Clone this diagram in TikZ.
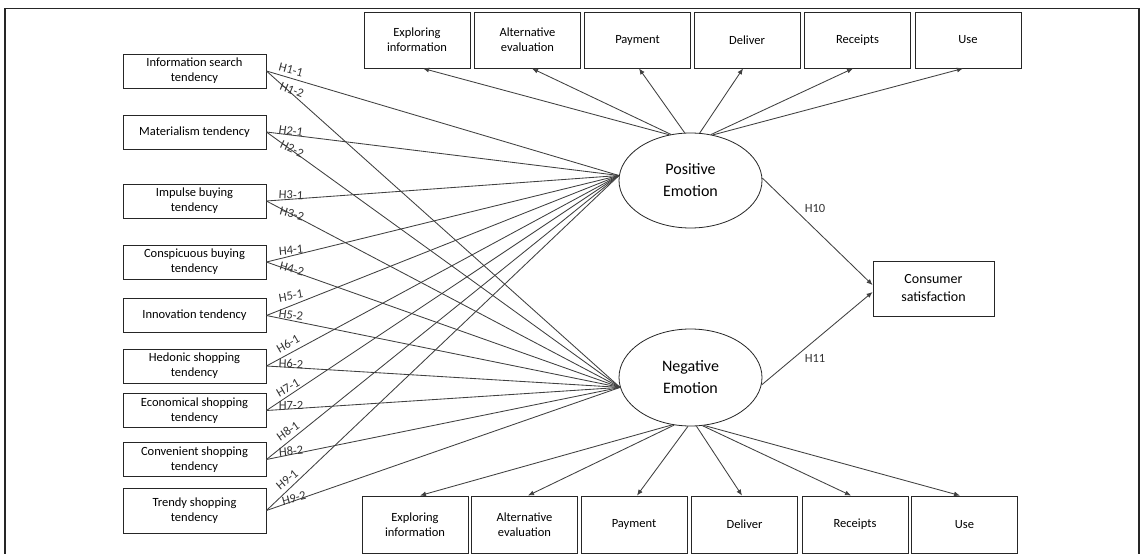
\documentclass[tikz,border=0pt]{standalone}
\usepackage{fontspec}
\setmainfont{Carlito}
\usetikzlibrary{shapes.geometric,arrows.meta,calc}
\begin{document}
\begin{tikzpicture}[x=1pt,y=-1pt,
  box/.style={draw=black!85, line width=0.9pt, rectangle, inner sep=0pt, align=center, font=\fontsize{12.5}{15}\selectfont, text=black},
  lbox/.style={box, minimum width=143pt, minimum height=34pt},
  tbox/.style={box, minimum width=106pt, minimum height=56pt},
  emo/.style={draw=black!85, line width=0.8pt, ellipse, minimum width=143pt, minimum height=95pt, inner sep=0pt, align=center, font=\fontsize{16}{22}\selectfont},
  link/.style={draw=black!75, line width=0.85pt},
  arr/.style={link, -{Latex[length=6pt,width=5pt]}},
  hl/.style={font=\fontsize{12.5}{13}\selectfont, text=black!80, inner sep=0pt},
]
\clip (0,0) rectangle (1141,554);
\fill[white] (0,0) rectangle (1141,554);
% outer frame
\draw[line width=1.4pt, black!85] (5,580) -- (5,8.5) -- (1139,8.5) -- (1139,580);

% left boxes
\node[lbox] (l1) at (194.5,71) {Information search\\tendency};
\node[lbox] (l2) at (194.5,132) {Materialism tendency};
\node[lbox] (l3) at (194.5,201) {Impulse buying\\tendency};
\node[lbox] (l4) at (194.5,262) {Conspicuous buying\\tendency};
\node[lbox] (l5) at (194.5,315.5) {Innovation tendency};
\node[lbox] (l6) at (194.5,366) {Hedonic shopping\\tendency};
\node[lbox] (l7) at (194.5,410.5) {Economical shopping\\tendency};
\node[lbox] (l8) at (194.5,459.5) {Convenient shopping\\tendency};
\node[lbox, minimum height=45pt] (l9) at (194.5,510.5) {Trendy shopping\\tendency};

% top boxes
\node[tbox] (t1) at (417,40) {Exploring\\information};
\node[tbox] (t2) at (527.5,40) {Alternative\\evaluation};
\node[tbox] (t3) at (637.5,40) {Payment};
\node[tbox] (t4) at (747,40) {Deliver};
\node[tbox] (t5) at (857.5,40) {Receipts};
\node[tbox] (t6) at (968,40) {Use};

% bottom boxes
\node[tbox, minimum height=57pt] (b1) at (415,524.5) {Exploring\\information};
\node[tbox, minimum height=57pt] (b2) at (524.5,524.5) {Alternative\\evaluation};
\node[tbox, minimum height=57pt] (b3) at (634,524.5) {Payment};
\node[tbox, minimum height=57pt] (b4) at (744.5,524.5) {Deliver};
\node[tbox, minimum height=57pt] (b5) at (855,524.5) {Receipts};
\node[tbox, minimum height=57pt] (b6) at (964.5,524.5) {Use};

% consumer satisfaction
\node[box, minimum width=121pt, minimum height=55pt, font=\fontsize{14}{18}\selectfont] (cs) at (933.5,288.5) {Consumer\\satisfaction};

% emotions
\node[emo] (pe) at (690.5,180.5) {Positive\\Emotion};
\node[emo, minimum height=97pt] (ne) at (690.5,377.5) {Negative\\Emotion};

% links from tendencies
\foreach \i in {1,...,9} {
  \draw[link] (l\i.east) -- (pe.176);
  \draw[link] (l\i.east) -- (ne.188);
}

% arrows to top boxes
\draw[arr] (pe.115) -- ($(t1.south)+(6,0)$);
\draw[arr] (pe.113) -- ($(t2.south)+(4.5,0)$);
\draw[arr] (pe.97) -- ($(t3.south)+(1.5,0)$);
\draw[arr] (pe.79) -- ($(t4.south)+(-4,0)$);
\draw[arr] (pe.66) -- ($(t5.south)+(-4.5,0)$);
\draw[arr] (pe.64) -- ($(t6.south)+(-5,0)$);

% arrows to bottom boxes
\draw[arr] (ne.249) -- ($(b1.north)+(5,0)$);
\draw[arr] (ne.251) -- ($(b2.north)+(3.5,0)$);
\draw[arr] (ne.267) -- ($(b3.north)+(3,0)$);
\draw[arr] (ne.277) -- ($(b4.north)+(-2.5,0)$);
\draw[arr] (ne.284) -- ($(b5.north)+(-4,0)$);
\draw[arr] (ne.286) -- ($(b6.north)+(-4.5,0)$);

% arrows to consumer satisfaction
\draw[arr] (pe.2) -- ($(cs.west)+(0,-3.5)$);
\draw[arr] (ne.-6) -- ($(cs.west)+(0,3.5)$);
\node[hl] (h10) at (815,208) {H10};
\node[hl] (h11) at (815,358) {H11};

% hypothesis labels
\node[hl, rotate=-15] (h1a) at (291,70) {H1-1};
\node[hl, rotate=-22] (h1b) at (292,90) {H1-2};
\node[hl, rotate=-8] (h2a) at (291,131) {H2-1};
\node[hl, rotate=-25] (h2b) at (292,149) {H2-2};
\node[hl, rotate=-3] (h3a) at (291,195) {H3-1};
\node[hl, rotate=-15] (h3b) at (292,214) {H3-2};
\node[hl, rotate=5] (h4a) at (291,250) {H4-1};
\node[hl, rotate=-15] (h4b) at (292,269) {H4-2};
\node[hl, rotate=10] (h5a) at (291,296) {H5-1};
\node[hl, rotate=-8] (h5b) at (291,315) {H5-2};
\node[hl, rotate=30] (h6a) at (288,344) {H6-1};
\node[hl, rotate=-3] (h6b) at (291,364) {H6-2};
\node[hl, rotate=30] (h7a) at (288,388) {H7-1};
\node[hl] (h7b) at (291,405) {H7-2};
\node[hl, rotate=35] (h8a) at (288,431) {H8-1};
\node[hl, rotate=5] (h8b) at (291,451) {H8-2};
\node[hl, rotate=40] (h9a) at (287,480) {H9-1};
\node[hl, rotate=15] (h9b) at (294,498) {H9-2};
\end{tikzpicture}
\end{document}
